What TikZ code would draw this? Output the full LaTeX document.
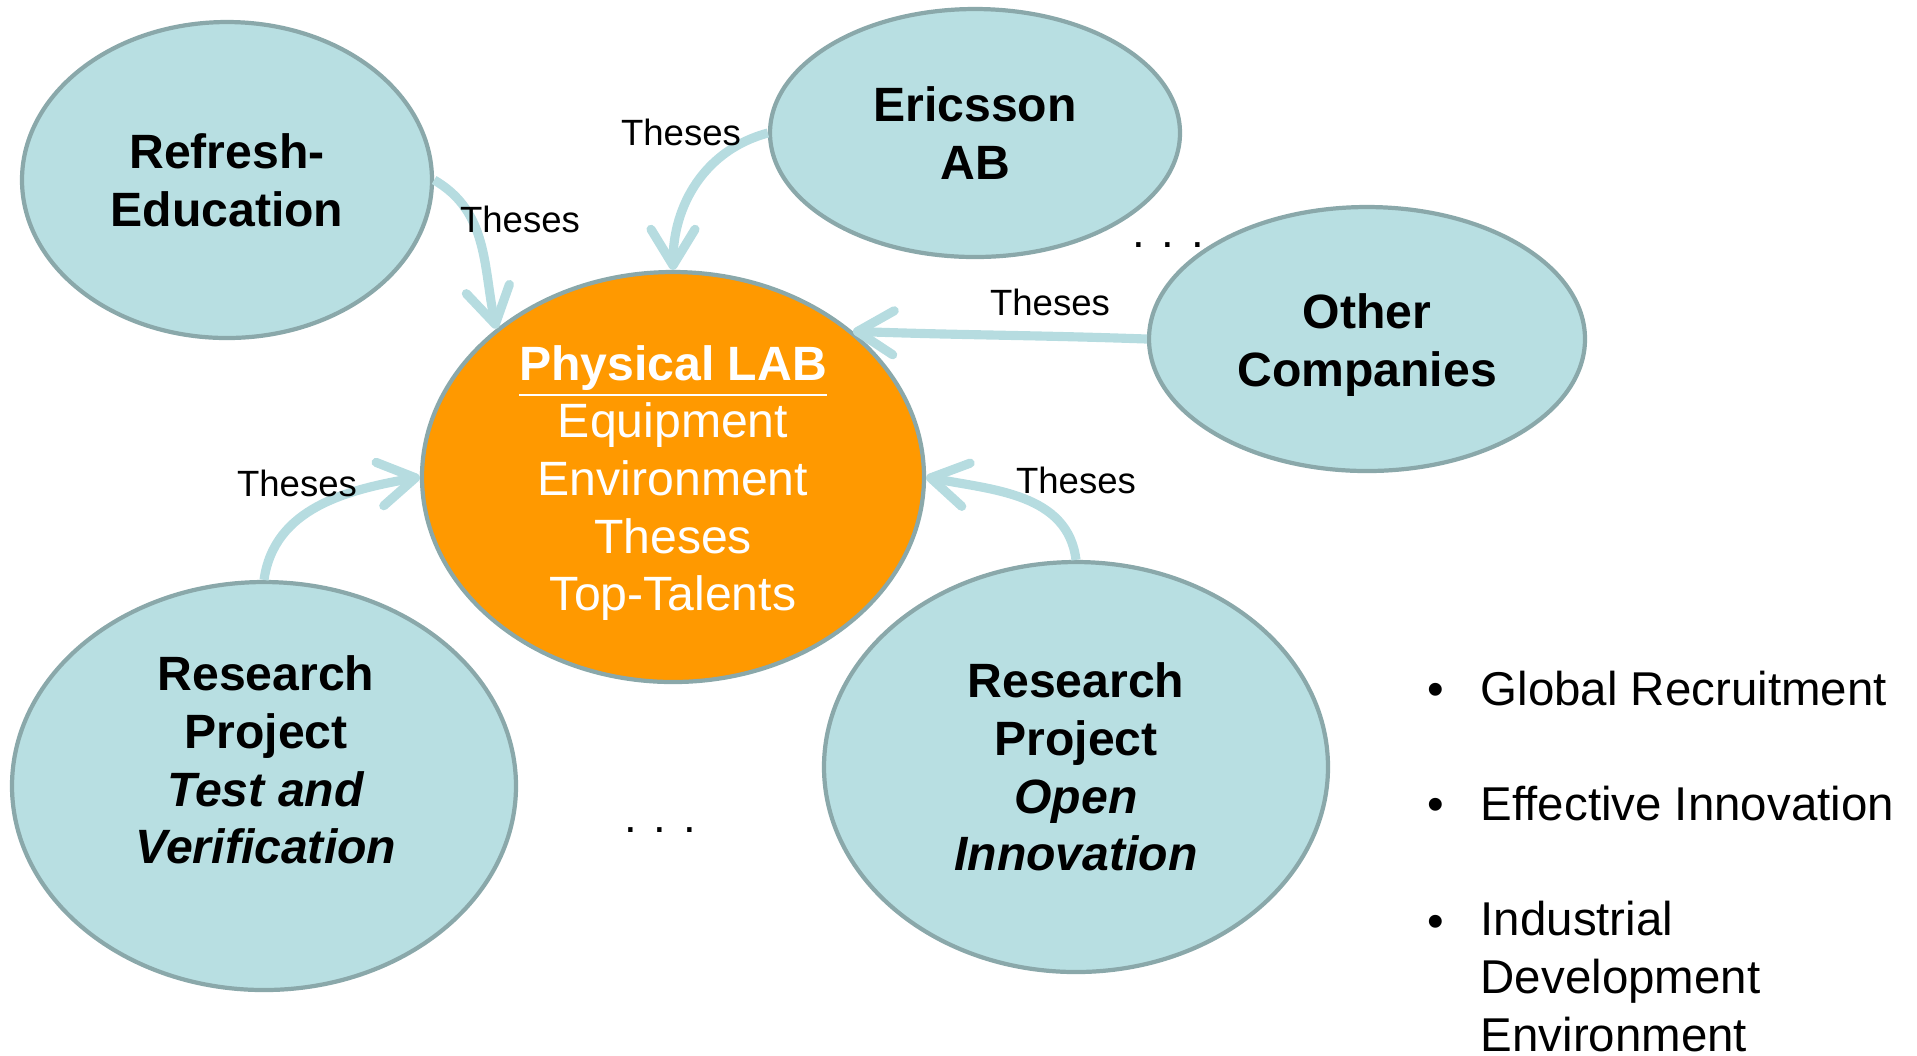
\documentclass[tikz,border=0pt]{standalone}
\usepackage{fontspec}
\setmainfont{Liberation Sans}
\usepackage{tikz}
\usetikzlibrary{shapes.geometric,arrows.meta}

\definecolor{bubblefill}{HTML}{B8DFE2}
\definecolor{bubbleline}{HTML}{8AA8AA}
\definecolor{labfill}{HTML}{FF9900}
\definecolor{thesesarrow}{HTML}{B6DCE0}

\begin{document}
\begin{tikzpicture}[
    bubtext/.style={align=center, font=\fontsize{13.7}{16.4}\selectfont\bfseries},
    bubble/.style={ellipse, draw=bubbleline, line width=1.2pt, fill=bubblefill, inner sep=0pt, bubtext},
    labbubble/.style={bubble, fill=labfill, text=white, font=\fontsize{13.7}{16.4}\selectfont},
    thesesflow/.style={draw=thesesarrow, line width=2.6pt, -{Straight Barb[length=3.6mm,width=4.4mm,round]}},
    theses/.style={font=\fontsize{10.4}{12.5}\selectfont},
    moredots/.style={font=\fontsize{13}{15}\selectfont},
    bulletdot/.style={anchor=base, font=\fontsize{13.5}{16.4}\selectfont},
    bullettext/.style={anchor=base west, align=left, inner sep=0pt, font=\fontsize{13.5}{16.4}\selectfont}
]
    \useasboundingbox (0,0) rectangle (19.17,-10.55);

    % draw partner bubbles
    \node[bubble, minimum width=4.10cm, minimum height=3.16cm] (refresh) at (2.27,-1.80) {Refresh-\\Education};
    \node[bubble, minimum width=4.10cm, minimum height=2.48cm] (ericsson) at (9.75,-1.33) {Ericsson\\AB};
    \node[bubble, minimum width=4.36cm, minimum height=2.64cm] (other) at (13.67,-3.39) {};
    \node[bubtext] (othertext) at (13.67,-3.45) {Other\\Companies};
    \node[bubble, minimum width=5.04cm, minimum height=4.08cm] (test) at (2.64,-7.86) {};
    \node[bubtext] (testtext) at (2.66,-7.60) {Research\\Project\\\textit{Test and}\\\textit{Verification}};
    \node[bubble, minimum width=5.04cm, minimum height=4.10cm] (open) at (10.76,-7.67) {Research\\Project\\\textit{Open}\\\textit{Innovation}};

    % draw the lab
    \node[labbubble, minimum width=5.02cm, minimum height=4.10cm] (lab) at (6.73,-4.77) {};
    \node[bubtext, text=white, font=\fontsize{13.7}{16.4}\selectfont] (labtext) at (6.73,-4.83)
        {\underline{\textbf{Physical LAB}}\\Equipment\\Environment\\Theses\\Top-Talents};

    % draw theses arrows
    \draw[thesesflow] (refresh.0) to[out=-30,in=102] (lab.140);
    \draw[thesesflow] (ericsson.180) to[out=195,in=90] (lab.90);
    \draw[thesesflow] (other.180) to[out=178,in=-2] (lab.39);
    \draw[thesesflow] (test.90) to[out=82,in=190] (lab.180);
    \draw[thesesflow] (open.90) to[out=97,in=-11] (lab.0);

    % draw labels
    \node[theses] (threfresh) at (5.20,-2.19) {Theses};
    \node[theses] (thericsson) at (6.81,-1.32) {Theses};
    \node[theses] (thother) at (10.50,-3.02) {Theses};
    \node[theses] (thtest) at (2.97,-4.83) {Theses};
    \node[theses] (thopen) at (10.76,-4.80) {Theses};

    \node[moredots] (dotsup) at (11.68,-2.45) {. . .};
    \node[moredots] (dotsdown) at (6.60,-8.30) {. . .};

    % draw bullet list
    \node[bulletdot] (bul1) at (14.36,-7.05) {•};
    \node[bullettext] (recruit) at (14.80,-7.05) {Global Recruitment};
    \node[bulletdot] (bul2) at (14.36,-8.20) {•};
    \node[bullettext] (innov) at (14.80,-8.20) {Effective Innovation};
    \node[bulletdot] (bul3) at (14.36,-9.37) {•};
    \node[bullettext] (indus) at (14.80,-10.51) {Industrial\\Development\\Environment};

\end{tikzpicture}
\end{document}
